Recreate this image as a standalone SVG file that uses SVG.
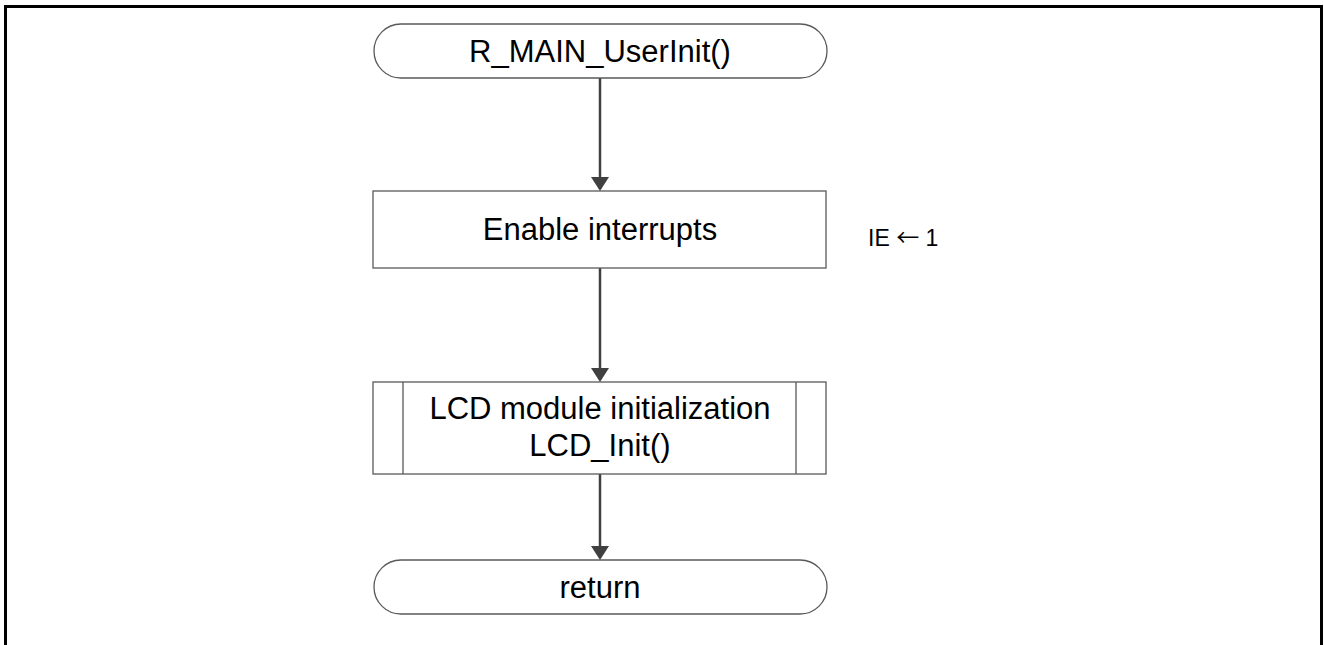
<svg xmlns="http://www.w3.org/2000/svg" width="1324" height="645" viewBox="0 0 1324 645">
<style>
.node{fill:#fff;stroke:#595959;stroke-width:1.3}
.lbl{font-family:"Liberation Sans",Arial,sans-serif;font-size:31px;fill:#000;text-anchor:middle}
.note{font-family:"Liberation Sans",Arial,sans-serif;font-size:23px;fill:#000}
.arrowglyph{font-family:"Noto Sans CJK JP","DejaVu Sans",sans-serif}
.conn{stroke:#404040;stroke-width:2.5;fill:none}
.head{fill:#404040}
</style>
<rect x="5.5" y="6.5" width="1316" height="660" fill="#fff" stroke="#000" stroke-width="3"/>
<g id="connectors">
<line class="conn" x1="600" y1="78" x2="600" y2="177"/>
<path class="head" d="M591,177 L609,177 L600,191 z"/>
<line class="conn" x1="600" y1="268" x2="600" y2="368"/>
<path class="head" d="M591,368 L609,368 L600,382 z"/>
<line class="conn" x1="600" y1="474" x2="600" y2="546"/>
<path class="head" d="M591,546 L609,546 L600,560 z"/>
</g>
<g id="start">
<rect class="node" x="374" y="24" width="453" height="54" rx="27" ry="27"/>
<text class="lbl" x="600" y="62">R_MAIN_UserInit()</text>
</g>
<g id="enable">
<rect class="node" x="373" y="191" width="453" height="77"/>
<text class="lbl" x="600" y="240">Enable interrupts</text>
</g>
<g id="note">
<text class="note" x="868" y="246">IE <tspan class="arrowglyph">←</tspan> 1</text>
</g>
<g id="lcdinit">
<rect class="node" x="373" y="382" width="453" height="92"/>
<line class="node" x1="403" y1="382" x2="403" y2="474"/>
<line class="node" x1="796" y1="382" x2="796" y2="474"/>
<text class="lbl" x="600" y="419">LCD module initialization</text>
<text class="lbl" x="600" y="456">LCD_Init()</text>
</g>
<g id="end">
<rect class="node" x="374" y="560" width="453" height="54" rx="27" ry="27"/>
<text class="lbl" x="600" y="598">return</text>
</g>
</svg>
